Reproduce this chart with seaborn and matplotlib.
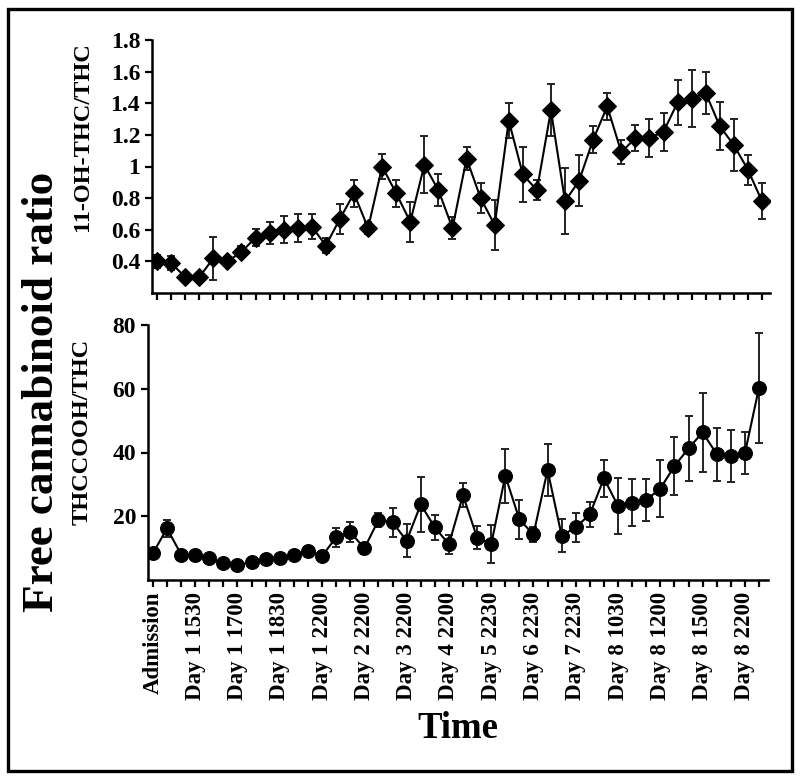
import numpy as np
import matplotlib
matplotlib.use("Agg")
import matplotlib.pyplot as plt
import seaborn as sns
from matplotlib.patches import Rectangle

# data
idx = list(range(44))
tick_labels = ["Admission", "Day 1 1530", "Day 1 1700", "Day 1 1830", "Day 1 2200",
               "Day 2 2200", "Day 3 2200", "Day 4 2200", "Day 5 2230", "Day 6 2230",
               "Day 7 2230", "Day 8 1030", "Day 8 1200", "Day 8 1500", "Day 8 2200"]

oh_ratio = [0.40, 0.39, 0.30, 0.30, 0.42, 0.40, 0.46, 0.55, 0.58, 0.60, 0.61,
            0.62, 0.50, 0.67, 0.83, 0.61, 1.00, 0.83, 0.65, 1.01, 0.85, 0.61,
            1.05, 0.80, 0.63, 1.29, 0.95, 0.85, 1.355, 0.78, 0.91, 1.17, 1.38,
            1.09, 1.18, 1.18, 1.22, 1.405, 1.43, 1.465, 1.255, 1.135, 0.98, 0.78]
oh_err = [0.04, 0.045, 0.02, 0.02, 0.135, 0.02, 0.035, 0.055, 0.07, 0.085, 0.09,
          0.08, 0.05, 0.095, 0.085, 0.04, 0.08, 0.085, 0.125, 0.18, 0.10, 0.07,
          0.075, 0.095, 0.16, 0.11, 0.175, 0.065, 0.165, 0.21, 0.16, 0.085, 0.085,
          0.075, 0.085, 0.12, 0.12, 0.145, 0.18, 0.135, 0.15, 0.165, 0.095, 0.115]

cooh_ratio = [8.4, 16.2, 8.0, 8.0, 6.8, 5.4, 4.7, 5.7, 6.5, 7.0, 7.8, 9.2, 7.5,
              13.4, 15.1, 9.9, 18.8, 18.1, 12.3, 23.7, 16.5, 11.2, 26.6, 13.3,
              11.2, 32.7, 19.0, 14.3, 34.5, 13.9, 16.5, 20.6, 31.9, 23.2, 24.3,
              25.1, 28.7, 35.7, 41.3, 46.3, 39.5, 38.9, 39.7, 60.3]
cooh_err = [0, 2.6, 0, 0, 0, 0, 0, 0, 0, 0, 0, 0, 0, 2.9, 3.1, 1.8, 2.3, 4.6,
            5.2, 8.7, 3.9, 3.0, 3.7, 3.7, 5.9, 8.4, 6.2, 2.3, 8.1, 5.2, 4.6, 3.9,
            5.9, 8.8, 7.5, 6.7, 8.8, 9.1, 10.1, 12.5, 8.3, 8.1, 6.6, 17.2]

sns.set_style("ticks")
plt.rcParams['font.family'] = ['Liberation Serif', 'DejaVu Serif']
plt.rcParams['font.weight'] = 'bold'
for key in ['text.color', 'axes.labelcolor', 'xtick.color', 'ytick.color', 'axes.edgecolor']:
    plt.rcParams[key] = 'black'

W, H = 800, 777
fig = plt.figure(figsize=(8, 7.77), dpi=100)

def px_axes(left, right, top, bottom):
    return fig.add_axes([left / W, 1 - bottom / H, (right - left) / W, (bottom - top) / H])

ax1 = px_axes(152, 770, 40, 293)
ax2 = px_axes(148, 768, 325, 580)

def draw(ax, y, err, marker, ms):
    ax.errorbar(idx, y, yerr=err, fmt='none', ecolor='#222222', elinewidth=1.4,
                capsize=2.6, capthick=1.4, zorder=2)
    sns.lineplot(x=idx, y=y, ax=ax, color='black', linewidth=1.5, marker=marker,
                 markersize=ms, markeredgecolor='black', markerfacecolor='black',
                 zorder=3)
    for side in ['top', 'right']:
        ax.spines[side].set_visible(False)
    for side in ['left', 'bottom']:
        ax.spines[side].set_linewidth(1.8)
    ax.tick_params(axis='both', width=1.6, length=5, labelsize=17, direction='out')
    ax.set_xticks(idx)

draw(ax1, oh_ratio, oh_err, 'D', 9)
draw(ax2, cooh_ratio, cooh_err, 'o', 10)

ax1.set_xlim(-0.36, 43.57)
ax1.set_ylim(0.2, 1.8)
ax1.set_yticks([0.4, 0.6, 0.8, 1.0, 1.2, 1.4, 1.6, 1.8])
ax1.set_yticklabels(['0.4', '0.6', '0.8', '1', '1.2', '1.4', '1.6', '1.8'])
ax1.set_xticklabels([''] * len(idx))
ax1.set_ylabel('11-OH-THC/THC', fontsize=17.5, fontweight='bold')
ax1.yaxis.set_label_coords(-0.095, 0.617)

ax2.set_xlim(-0.35, 43.64)
ax2.set_ylim(0, 80)
ax2.set_yticks([20, 40, 60, 80])
ax2.set_yticklabels(['20', '40', '60', '80'])
labels = [''] * len(idx)
for k, lab in enumerate(tick_labels):
    labels[k * 3] = lab
ax2.set_xticklabels(labels, rotation=90, fontsize=16.5, fontweight='bold')
ax2.set_ylabel('THCCOOH/THC', fontsize=17.5, fontweight='bold')
ax2.yaxis.set_label_coords(-0.089, 0.58)
ax2.set_xlabel('Time', fontsize=26.5, fontweight='bold')
ax2.xaxis.set_label_coords(0.5, -0.515)

fig.text(42 / W, 1 - 392 / H, 'Free cannabinoid ratio', rotation=90, fontsize=32.5,
         fontweight='bold', ha='center', va='center')

fig.patches.append(Rectangle((8 / W, 1 - 771 / H), 784 / W, 762 / H, fill=False,
                             edgecolor='black', linewidth=2.4,
                             transform=fig.transFigure, figure=fig))

fig.savefig('out.png', dpi=100)
